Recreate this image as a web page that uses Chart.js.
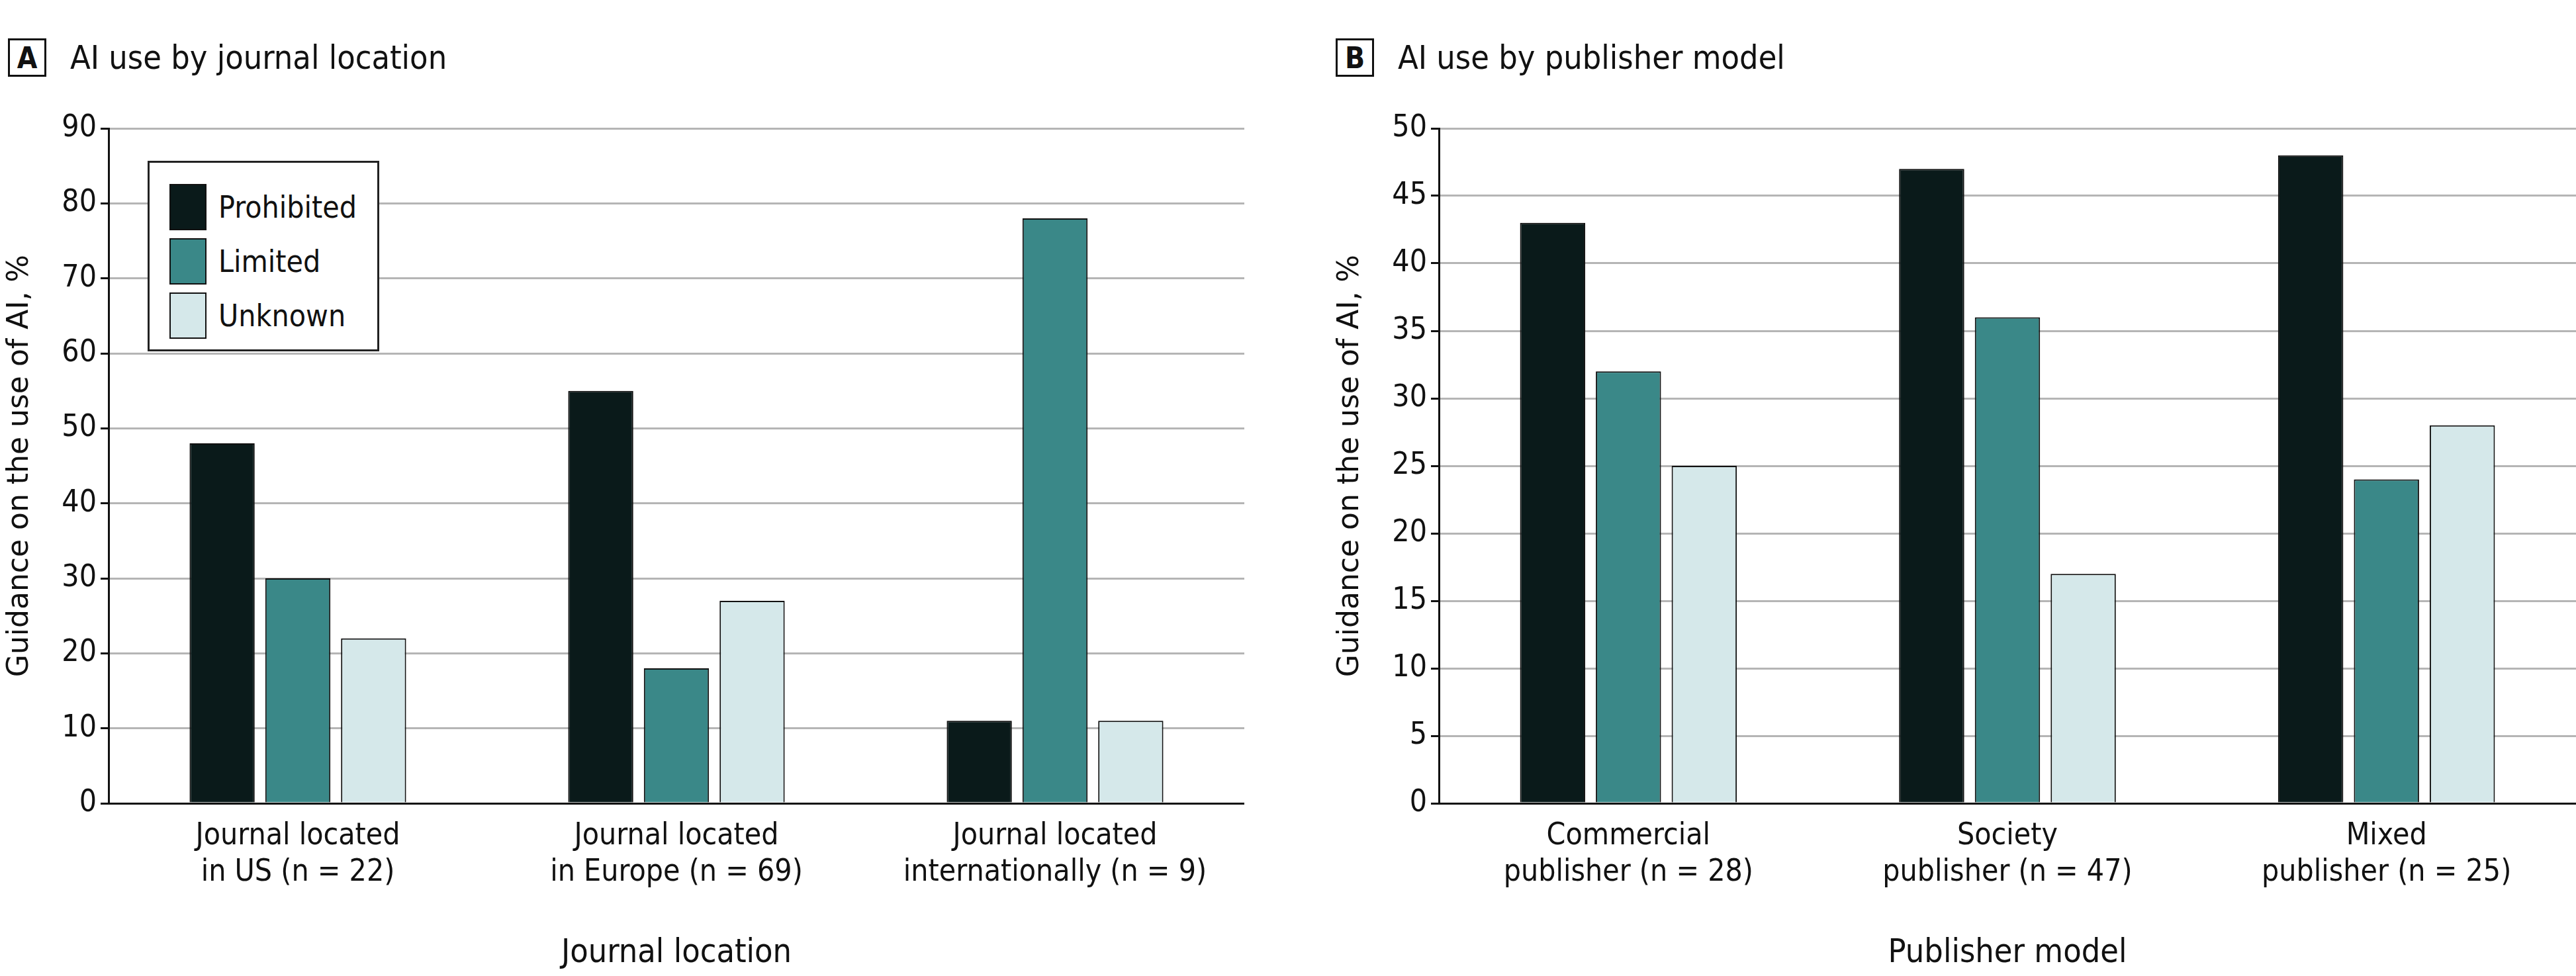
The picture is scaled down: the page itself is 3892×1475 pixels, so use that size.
<!DOCTYPE html>
<html>
<head>
<meta charset="utf-8">
<script src="https://cdn.jsdelivr.net/npm/chart.js@4"></script>
<style>
  body { margin: 0; background: #fff; width: 3892px; height: 1475px; position: relative; overflow: hidden;
         font-family: "Liberation Sans Narrow", "DejaVu Sans Condensed", sans-serif; }
  .panel-title { position: absolute; top: 58px; font-size: 50px; color: #111; display: flex; align-items: center; }
  .panel-title .tag { border: 3px solid #111; width: 52px; height: 52px; display: inline-flex; align-items: center;
                      justify-content: center; font-weight: bold; font-size: 44px; margin-right: 36px; }
  .legend { position: absolute; left: 223px; top: 243px; width: 350px; height: 288px; border: 3px solid #222;
            background: #fff; font-size: 46px; color: #111; box-sizing: border-box; padding: 26px 0 0 30px; }
  .legend div { display: flex; align-items: center; height: 82px; }
  .legend span.sw { width: 56px; height: 70px; border: 2px solid #111; margin-right: 18px; box-sizing: border-box; }
  canvas { position: absolute; }
</style>
</head>
<body>
<div class="panel-title" style="left:12px"><span class="tag">A</span>AI use by journal location</div>
<div class="panel-title" style="left:2018px"><span class="tag">B</span>AI use by publisher model</div>
<div style="position:absolute;left:0;top:150px;width:1880px;height:1325px"><canvas id="chartA"></canvas></div>
<div style="position:absolute;left:2010px;top:150px;width:1882px;height:1325px"><canvas id="chartB"></canvas></div>
<div class="legend">
  <div><span class="sw" style="background:#0a1a1a"></span>Prohibited</div>
  <div><span class="sw" style="background:#3a8888"></span>Limited</div>
  <div><span class="sw" style="background:#d5e8ea"></span>Unknown</div>
</div>
<script>
const seriesNames = ["Prohibited", "Limited", "Unknown"];
const seriesColors = ["#0a1a1a", "#3a8888", "#d5e8ea"];

const locationLabels = [["Journal located", "in US (n = 22)"], ["Journal located", "in Europe (n = 69)"], ["Journal located", "internationally (n = 9)"]];
const locationProhibited = [48, 55, 11];
const locationLimited = [30, 18, 78];
const locationUnknown = [22, 27, 11];

const publisherLabels = [["Commercial", "publisher (n = 28)"], ["Society", "publisher (n = 47)"], ["Mixed", "publisher (n = 25)"]];
const publisherProhibited = [43, 47, 48];
const publisherLimited = [32, 36, 24];
const publisherUnknown = [25, 17, 28];

const narrow = "'Liberation Sans Narrow', 'DejaVu Sans Condensed', sans-serif";

function makeChart(id, labels, values, yMax, yStep, xTitle) {
    new Chart(document.getElementById(id), {
        type: 'bar',
        data: {
            labels: labels,
            datasets: values.map((v, i) => ({
                label: seriesNames[i],
                data: v,
                backgroundColor: seriesColors[i],
                borderColor: '#111',
                borderWidth: 2,
                categoryPercentage: 0.6,
                barPercentage: 0.86
            }))
        },
        options: {
            responsive: true,
            maintainAspectRatio: false,
            animation: false,
            layout: { padding: { top: 44, right: 0 } },
            plugins: { legend: { display: false }, tooltip: { enabled: false } },
            scales: {
                x: {
                    grid: { display: false },
                    border: { color: '#111', width: 3 },
                    ticks: { color: '#111', font: { family: narrow, size: 46 }, padding: 14 },
                    title: { display: true, text: xTitle, color: '#111', font: { family: narrow, size: 50 }, padding: { top: 10 } },
                    afterFit: s => { s.height = 261; }
                },
                y: {
                    min: 0, max: yMax,
                    ticks: { stepSize: yStep, color: '#111', font: { family: narrow, size: 46 }, padding: 6 },
                    grid: { color: '#b5b5b5', lineWidth: 3, tickColor: '#111', tickLength: 12 },
                    border: { color: '#111', width: 3 },
                    title: { display: true, text: 'Guidance on the use of AI, %', color: '#111', font: { family: 'DejaVu Sans', size: 44 }, padding: { bottom: 4 } },
                    afterFit: s => { s.width = 164; }
                }
            }
        }
    });
}

makeChart('chartA', locationLabels, [locationProhibited, locationLimited, locationUnknown], 90, 10, 'Journal location');
makeChart('chartB', publisherLabels, [publisherProhibited, publisherLimited, publisherUnknown], 50, 5, 'Publisher model');
</script>
</body>
</html>
